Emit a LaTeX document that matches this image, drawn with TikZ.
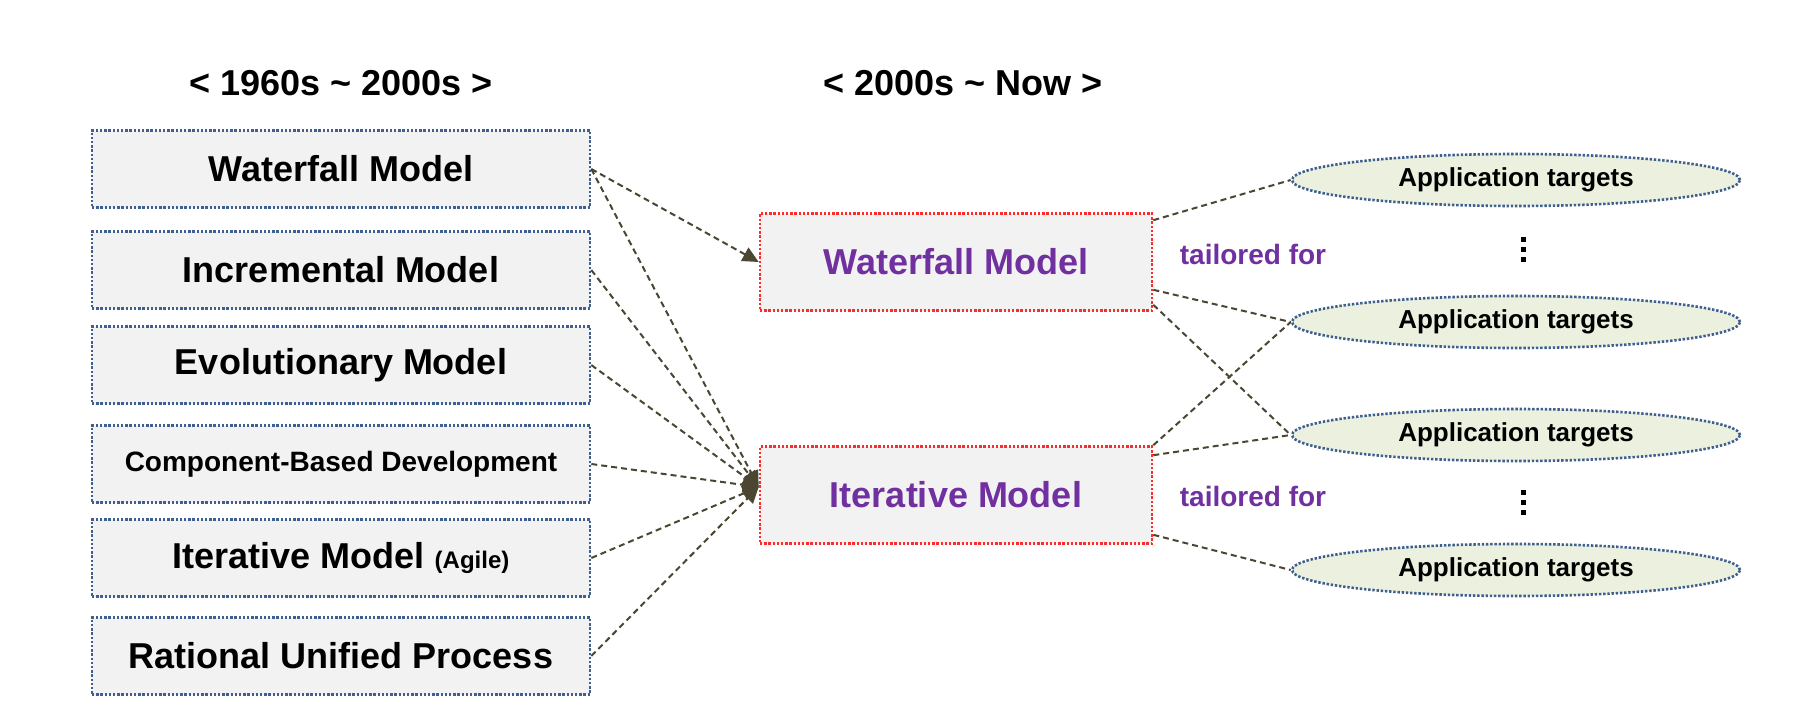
\documentclass[tikz,border=0pt]{standalone}
\usepackage{fontspec}
\setmainfont{Liberation Sans}
\usetikzlibrary{arrows.meta,shapes.geometric,calc}
\definecolor{conncol}{HTML}{4A4632}
\definecolor{boxgray}{HTML}{F2F2F2}
\definecolor{bluedot}{HTML}{3F5F8F}
\definecolor{reddot}{HTML}{FF2A2A}
\definecolor{purp}{HTML}{7030A0}
\definecolor{ellfill}{HTML}{EBF1DE}
\tikzset{
  dotborder/.style={line width=2.6pt, dash pattern=on 2.4pt off 1.8pt},
  leftbox/.style={draw=bluedot, dotborder, fill=boxgray, minimum width=498pt, minimum height=77pt, inner sep=0pt,
    font=\fontsize{36}{40}\selectfont\bfseries},
  midbox/.style={draw=reddot, dotborder, fill=boxgray, minimum width=392pt, minimum height=97pt, inner sep=0pt,
    text=purp, font=\fontsize{36}{40}\selectfont\bfseries},
  target/.style={ellipse, draw=bluedot, dotborder, fill=ellfill, minimum width=448pt, minimum height=52pt, inner sep=0pt,
    font=\fontsize{26}{28}\selectfont\bfseries},
  title/.style={font=\fontsize{36}{40}\selectfont\bfseries, inner sep=0pt},
  tail/.style={text=purp, font=\fontsize{28}{32}\selectfont\bfseries, inner sep=0pt},
  conn/.style={draw=conncol, line width=2pt, dash pattern=on 6pt off 4pt},
  tip/.style={-{Triangle[length=16pt,width=15pt,fill=conncol]}},
  vdot/.style={fill=black, draw=none, minimum size=5pt, inner sep=0pt},
}
\begin{document}
\begin{tikzpicture}[x=1pt,y=-1pt]
\useasboundingbox (0,0) rectangle (1798,712);
\node[title] (t1) at (341,83) {< 1960s \textasciitilde{} 2000s >};
\node[title] (t2) at (963,83) {< 2000s \textasciitilde{} Now >};

\node[leftbox] (l1) at (341,169) {Waterfall Model};
\node[leftbox] (l2) at (341,270) {Incremental Model};
\node[leftbox] (l3) at (341,365) {Evolutionary Model};
\node[leftbox, font=\fontsize{28}{32}\selectfont\bfseries] (l4) at (341,464) {Component-Based Development};
\node[leftbox] (l5) at (341,558) {Iterative Model {\fontsize{24}{28}\selectfont (Agile)}};
\node[leftbox] (l6) at (341,656) {Rational Unified Process};

\node[midbox] (m1) at (956,262) {Waterfall Model};
\node[midbox] (m2) at (956,495) {Iterative Model};

\node[target] (e1) at (1516,180) {Application targets};
\node[target] (e2) at (1516,322) {Application targets};
\node[target] (e3) at (1516,435) {Application targets};
\node[target] (e4) at (1516,570) {Application targets};

\node[tail] (tf1) at (1253,254) {tailored for};
\node[tail] (tf2) at (1253,496) {tailored for};

\node[vdot] (d1a) at (1523,239) {};
\node[vdot] (d1b) at (1523,249) {};
\node[vdot] (d1c) at (1523,259) {};
\node[vdot] (d2a) at (1523,492) {};
\node[vdot] (d2b) at (1523,502) {};
\node[vdot] (d2c) at (1523,512) {};

\coordinate (a1) at ($(m1.west)+(0,0)$);
\coordinate (a2) at ($(m2.west)+(0,-8)$);

\draw[conn,tip] (l1.east) -- (a1);
\draw[conn,tip] (l1.east) -- (a2);
\draw[conn,tip] (l2.east) -- (a2);
\draw[conn,tip] (l3.east) -- (a2);
\draw[conn,tip] (l4.east) -- (a2);
\draw[conn,tip] (l5.east) -- (a2);
\draw[conn,tip] (l6.east) -- (a2);

\draw[conn] ($(m1.north east)+(0,8)$) -- (e1.west);
\draw[conn] ($(m1.south east)+(0,-22)$) -- (e2.west);
\draw[conn] ($(m1.south east)+(0,-7)$) -- (e3.west);
\draw[conn] ($(m2.north east)+(0,0)$) -- (e2.west);
\draw[conn] ($(m2.north east)+(0,10)$) -- (e3.west);
\draw[conn] ($(m2.south east)+(0,-10)$) -- (e4.west);
\end{tikzpicture}
\end{document}
